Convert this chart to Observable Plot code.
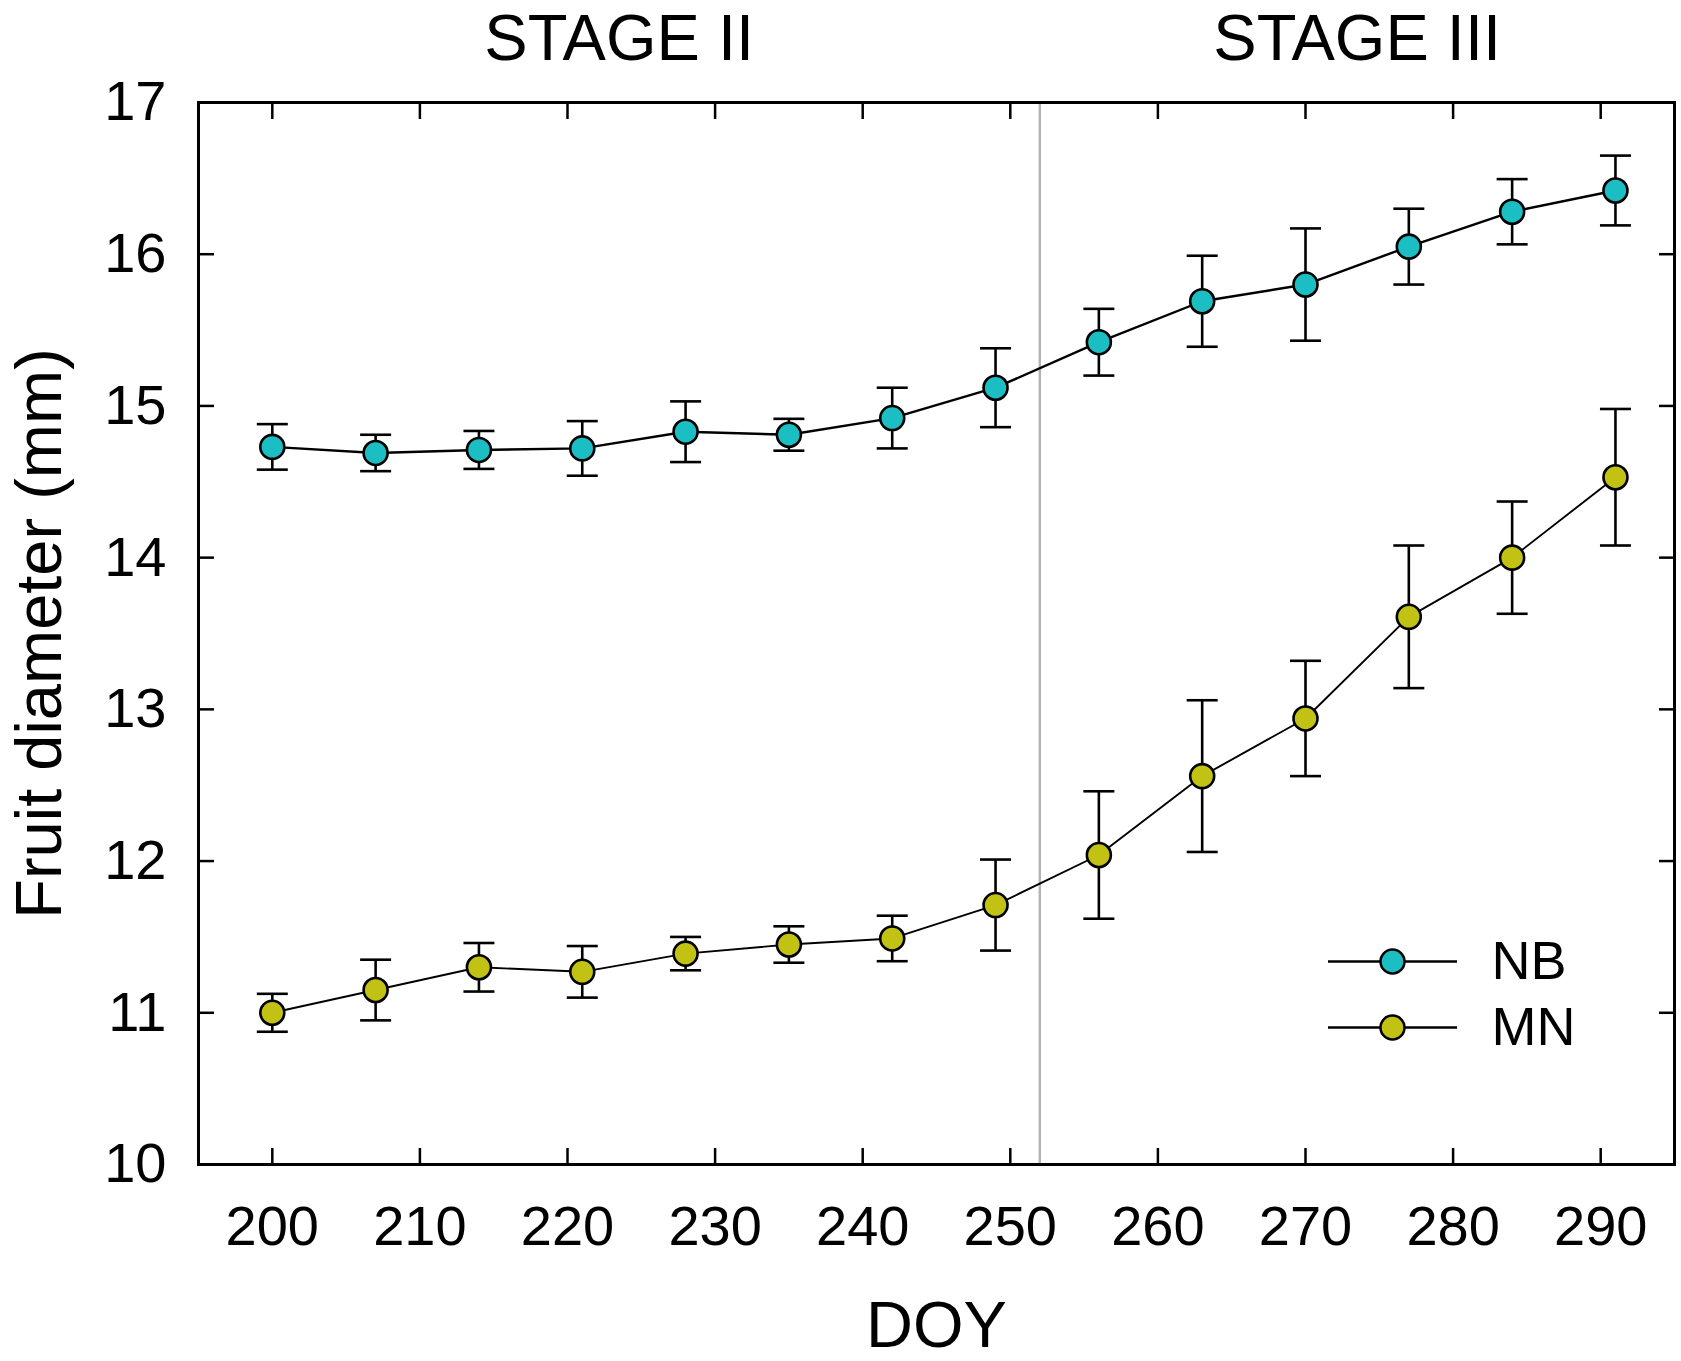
<!DOCTYPE html>
<html><head><meta charset="utf-8">
<script src="https://cdn.jsdelivr.net/npm/d3@7"></script>
<script src="https://cdn.jsdelivr.net/npm/@observablehq/plot@0.6"></script>
<style>html,body{margin:0;padding:0;background:#fff} svg{display:block}</style>
</head><body><div id="chart"></div>
<script>
// ---- data ----
const doy = [200, 207, 214, 221, 228, 235, 242, 249, 256, 263, 270, 277, 284, 291];
const nbMean = [14.73, 14.69, 14.71, 14.72, 14.83, 14.81, 14.92, 15.12, 15.42, 15.69, 15.80, 16.05, 16.28, 16.42];
const nbSE   = [0.15, 0.12, 0.125, 0.18, 0.20, 0.105, 0.20, 0.26, 0.22, 0.30, 0.37, 0.25, 0.215, 0.23];
const mnMean = [11.00, 11.15, 11.30, 11.27, 11.39, 11.45, 11.49, 11.71, 12.04, 12.56, 12.94, 13.61, 14.00, 14.53];
const mnSE   = [0.125, 0.20, 0.16, 0.17, 0.11, 0.12, 0.15, 0.30, 0.42, 0.50, 0.38, 0.47, 0.37, 0.45];
const seriesNames = ["NB", "MN"];
const seriesColors = ["#1bbfc3", "#c2c214"];
const xTicks = [200, 210, 220, 230, 240, 250, 260, 270, 280, 290];
const yTicks = [10, 11, 12, 13, 14, 15, 16, 17];
const xDomain = [195, 295];
const yDomain = [10, 17];
const stageLabels = ["STAGE II", "STAGE III"];
const stageBoundary = 252;
const xTitle = "DOY";
const yTitle = "Fruit diameter (mm)";

// ---- table ----
const rows = [];
doy.forEach((d, i) => {
  rows.push({series: "NB", doy: d, mean: nbMean[i], se: nbSE[i]});
  rows.push({series: "MN", doy: d, mean: mnMean[i], se: mnSE[i]});
});
const stageCenters = [(xDomain[0] + stageBoundary) / 2, (stageBoundary + xDomain[1]) / 2];

const capSymbol = {draw(ctx) { ctx.moveTo(-15.5, 0); ctx.lineTo(15.5, 0); }};
const legendLineSymbol = {draw(ctx) { ctx.moveTo(-64.5, 0); ctx.lineTo(64.5, 0); }};

const legendMarks = [];
const legendDy = [-203, -137];
seriesNames.forEach((s, i) => {
  legendMarks.push(
    Plot.dot([s], {frameAnchor: "bottom-right", dx: -282, dy: legendDy[i], symbol: legendLineSymbol, fill: "none", stroke: "black", strokeWidth: 2.5}),
    Plot.dot([s], {frameAnchor: "bottom-right", dx: -282, dy: legendDy[i], r: 12, fill: d => d, stroke: "black", strokeWidth: 2.5}),
    Plot.text([s], {frameAnchor: "bottom-right", dx: -183, dy: legendDy[i], text: d => d, textAnchor: "start", lineAnchor: "middle", fontSize: 54, fill: "black"})
  );
});

const chart = Plot.plot({
  width: 1681,
  height: 1361,
  marginLeft: 198,
  marginRight: 7,
  marginTop: 102,
  marginBottom: 197,
  style: {fontFamily: "'Liberation Sans', Arial, sans-serif", color: "black", background: "white"},
  x: {domain: xDomain},
  y: {domain: yDomain},
  color: {domain: seriesNames, range: seriesColors},
  marks: [
    Plot.ruleX([stageBoundary], {stroke: "#b4b4b4", strokeWidth: 2.5}),
    Plot.line(rows.filter(d => d.series === "NB"), {x: "doy", y: "mean", stroke: "black", strokeWidth: 2.4}),
    Plot.line(rows.filter(d => d.series === "MN"), {x: "doy", y: "mean", stroke: "black", strokeWidth: 1.9}),
    Plot.ruleX(rows, {x: "doy", y1: d => d.mean - d.se, y2: d => d.mean + d.se, stroke: "black", strokeWidth: 2.6}),
    Plot.dot(rows, {x: "doy", y: d => d.mean + d.se, symbol: capSymbol, fill: "none", stroke: "black", strokeWidth: 2.6}),
    Plot.dot(rows, {x: "doy", y: d => d.mean - d.se, symbol: capSymbol, fill: "none", stroke: "black", strokeWidth: 2.6}),
    Plot.dot(rows, {x: "doy", y: "mean", r: 12, fill: "series", stroke: "black", strokeWidth: 2.6}),
    // inward ticks on all four sides
    Plot.axisX({ticks: xTicks, anchor: "bottom", tickSize: 16, dy: -16, strokeWidth: 2.5, fill: "none", label: null}),
    Plot.axisX({ticks: xTicks, anchor: "top", tickSize: 16, dy: 16, strokeWidth: 2.5, fill: "none", label: null}),
    Plot.axisY({ticks: yTicks, anchor: "left", tickSize: 16, dx: 16, strokeWidth: 2.5, fill: "none", label: null}),
    Plot.axisY({ticks: yTicks, anchor: "right", tickSize: 16, dx: -16, strokeWidth: 2.5, fill: "none", label: null}),
    // tick labels
    Plot.axisX({ticks: xTicks, anchor: "bottom", tickSize: 0, tickPadding: 41, fontSize: 56, tickFormat: d3.format("d"), label: null}),
    Plot.axisY({ticks: yTicks, anchor: "left", tickSize: 0, tickPadding: 32, fontSize: 56, tickFormat: d3.format("d"), label: null}),
    Plot.frame({stroke: "black", strokeWidth: 3}),
    // titles
    Plot.text(stageLabels, {x: (d, i) => stageCenters[i], frameAnchor: "top", dy: -43, lineAnchor: "bottom", textAnchor: "middle", text: d => d, fontSize: 65, fill: "black"}),
    Plot.text([xTitle], {frameAnchor: "bottom", dy: 182, lineAnchor: "bottom", textAnchor: "middle", text: d => d, fontSize: 65, fill: "black"}),
    Plot.text([yTitle], {frameAnchor: "left", dx: -158, rotate: -90, lineAnchor: "middle", textAnchor: "middle", text: d => d, fontSize: 65, fill: "black"}),
    ...legendMarks
  ]
});
document.getElementById("chart").appendChild(chart);
</script>
</body></html>
